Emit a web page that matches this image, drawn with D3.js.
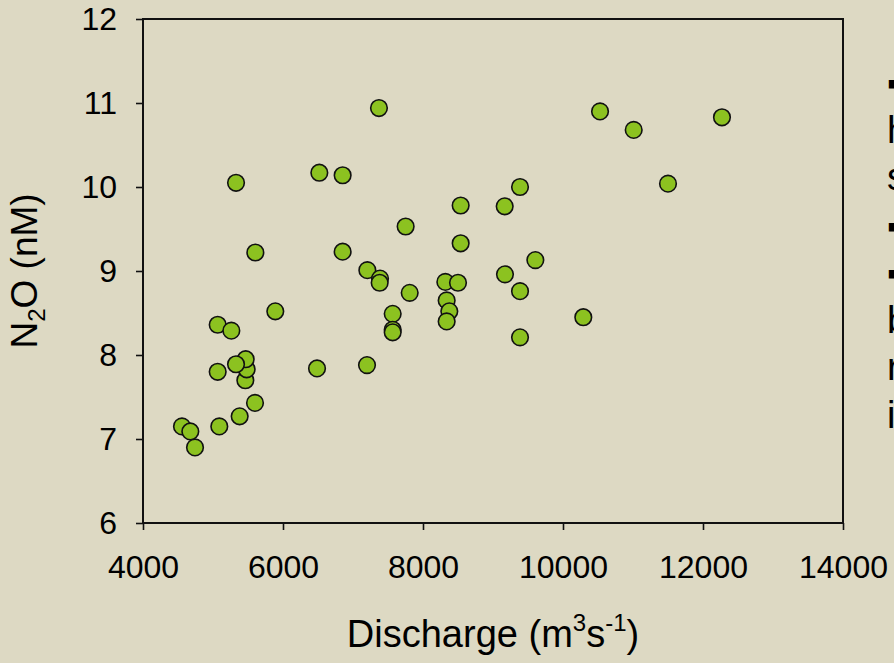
<!DOCTYPE html>
<html>
<head>
<meta charset="utf-8">
<script src="https://cdn.jsdelivr.net/npm/d3@7"></script>
<style>
  body { margin: 0; background: #ddd9c3; overflow: hidden; }
  svg { display: block; }
  text { font-family: "Liberation Sans", Arial, sans-serif; fill: #000; }
</style>
</head>
<body>
<svg id="chart" width="894" height="663"></svg>
<script>
// N2O concentration vs river discharge
const discharge = [4557, 4676, 4743, 5090, 5381, 5600, 5067, 5462, 5481, 5467, 5329, 5067,
  5262, 5890, 5605, 5329, 6486, 7200, 6519, 6852, 6852, 7205, 7386, 7381, 7371, 7567, 7567,
  7567, 7752, 7810, 8319, 8500, 8338, 8376, 8338, 8538, 8538, 9167, 9171, 9386, 9386, 9386,
  9605, 10290, 10529, 11010, 11500, 12271];
const n2o = [7.15, 7.09, 6.90, 7.15, 7.27, 7.43, 7.80, 7.70, 7.83, 7.95, 7.89, 8.36,
  8.29, 8.52, 9.22, 10.05, 7.84, 7.88, 10.17, 10.14, 9.23, 9.01, 8.91, 8.86, 10.94, 8.49, 8.30,
  8.27, 9.53, 8.74, 8.87, 8.86, 8.65, 8.52, 8.40, 9.33, 9.78, 9.77, 8.96, 10.00, 8.76, 8.21,
  9.13, 8.45, 10.90, 10.68, 10.04, 10.83];
const xTicks = [4000, 6000, 8000, 10000, 12000, 14000];
const yTicks = [6, 7, 8, 9, 10, 11, 12];
// slide text to the right of the chart, cut off by the frame edge
const sideLines = ["▪", "h", "s", "▪", "▪", "b", "r", "i"];

const svg = d3.select("#chart");
const W = 894, H = 663;
const M = { left: 143, top: 19, right: 843, bottom: 523 };

svg.append("rect").attr("width", W).attr("height", H).attr("fill", "#ddd9c3");

const x = d3.scaleLinear().domain([4000, 14000]).range([M.left, M.right]);
const y = d3.scaleLinear().domain([6, 12]).range([M.bottom, M.top]);

const gx = svg.append("g").attr("transform", `translate(0,${M.bottom})`)
  .call(d3.axisBottom(x).tickValues(xTicks).tickFormat(d3.format("d")).tickSize(7).tickSizeOuter(0).tickPadding(25));
const gy = svg.append("g").attr("transform", `translate(${M.left},0)`)
  .call(d3.axisLeft(y).tickValues(yTicks).tickFormat(d3.format("d")).tickSize(7).tickSizeOuter(0).tickPadding(19));
[gx, gy].forEach((g) => {
  g.select(".domain").remove();
  g.selectAll("line").attr("stroke", "#111").attr("stroke-width", 1.6);
  g.selectAll("text").attr("font-size", "32px").attr("fill", "#000")
    .attr("font-family", "'Liberation Sans', Arial, sans-serif");
});

// plot frame
svg.append("rect").attr("x", M.left).attr("y", M.top)
  .attr("width", M.right - M.left).attr("height", M.bottom - M.top)
  .attr("fill", "none").attr("stroke", "#111").attr("stroke-width", 2);

svg.append("g").selectAll("circle").data(discharge).join("circle")
  .attr("cx", (d) => x(d))
  .attr("cy", (d, i) => y(n2o[i]))
  .attr("r", 8.3)
  .attr("fill", "#8cc220")
  .attr("stroke", "#111")
  .attr("stroke-width", 1.6);

// axis titles
const xt = svg.append("text").attr("x", (M.left + M.right) / 2).attr("y", 647)
  .attr("text-anchor", "middle").attr("font-size", "38px");
xt.append("tspan").text("Discharge (m");
xt.append("tspan").attr("font-size", "24px").attr("dy", -16).text("3");
xt.append("tspan").attr("dy", 16).text("s");
xt.append("tspan").attr("font-size", "24px").attr("dy", -16).text("-1");
xt.append("tspan").attr("dy", 16).text(")");

const yt = svg.append("text").attr("transform", `translate(37,${(M.top + M.bottom) / 2}) rotate(-90)`)
  .attr("text-anchor", "middle").attr("font-size", "37px");
yt.append("tspan").text("N");
yt.append("tspan").attr("font-size", "24px").attr("dy", 8).text("2");
yt.append("tspan").attr("dy", -8).text("O (nM)");

svg.append("g").selectAll("text").data(sideLines).join("text")
  .attr("x", 887)
  .attr("y", (d, i) => 95 + i * 47.5)
  .attr("font-size", (d) => d === "▪" ? "34px" : "38px")
  .attr("font-family", (d) => d === "▪" ? "'DejaVu Sans', sans-serif" : "'Liberation Sans', Arial, sans-serif")
  .text((d) => d);
</script>
</body>
</html>
